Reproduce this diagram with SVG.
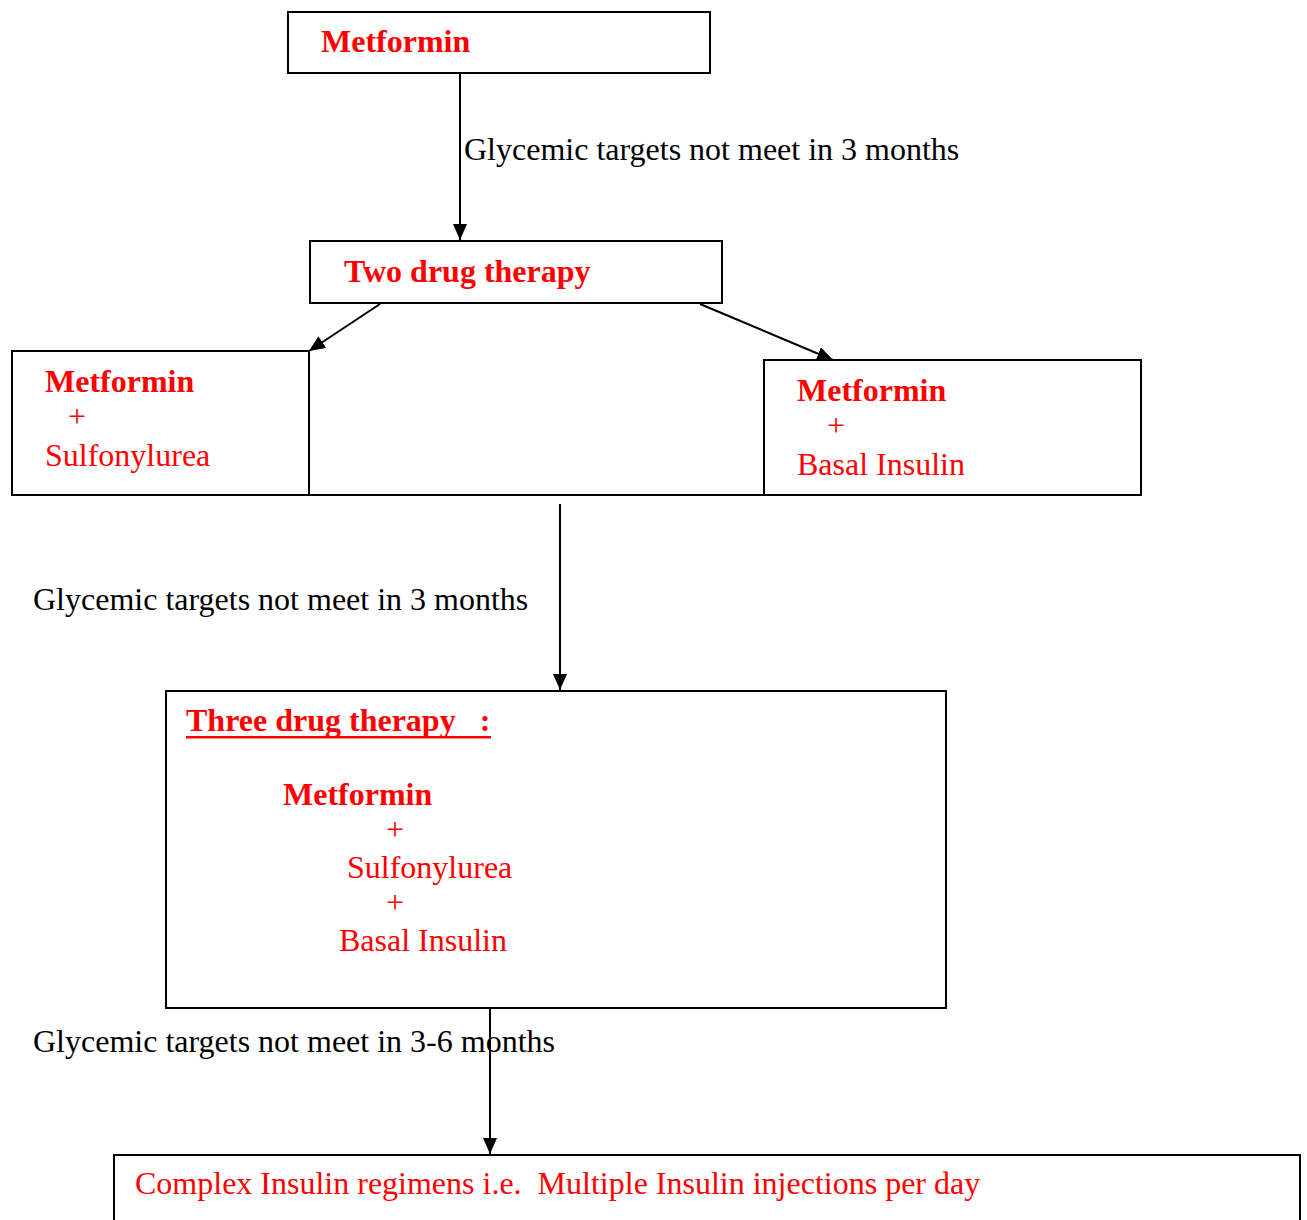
<svg xmlns="http://www.w3.org/2000/svg" width="1307" height="1220" viewBox="0 0 1307 1220">
<style>
.box{fill:#fff;stroke:#000;stroke-width:2}
.t{font-family:"Liberation Serif","Times New Roman",serif;font-size:32px}
.r{fill:#f00}
.b{font-weight:bold}
.k{fill:#000}
.c{stroke:#000;stroke-width:2;fill:none}
</style>
<defs>
<marker id="ah" viewBox="0 0 16 14" refX="16" refY="7" markerWidth="16" markerHeight="14" markerUnits="userSpaceOnUse" orient="auto">
<path d="M0,0 L16,7 L0,14 Z" fill="#000"/>
</marker>
</defs>
<rect width="1307" height="1220" fill="#fff"/>
<g id="n-metformin">
<rect class="box" x="288" y="12" width="422" height="61"/>
<text class="t r b" x="321" y="52">Metformin</text>
</g>
<g id="n-two">
<rect class="box" x="310" y="241" width="412" height="62"/>
<text class="t r b" x="344" y="282">Two drug therapy</text>
</g>
<g id="n-left">
<rect class="box" x="12" y="351" width="297" height="144"/>
<text class="t r b" x="45" y="392">Metformin</text>
<text class="t r" x="68" y="427">+</text>
<text class="t r" x="45" y="466">Sulfonylurea</text>
</g>
<g id="n-right">
<rect class="box" x="764" y="360" width="377" height="135"/>
<text class="t r b" x="797" y="401">Metformin</text>
<text class="t r" x="827" y="436">+</text>
<text class="t r" x="797" y="475">Basal Insulin</text>
</g>
<g id="n-three">
<rect class="box" x="166" y="691" width="780" height="317"/>
<text class="t r b" x="186" y="731" xml:space="preserve">Three drug therapy   :</text>
<rect x="186" y="736" width="305" height="2.5" fill="#f00"/>
<text class="t r b" x="283" y="805">Metformin</text>
<text class="t r" x="386" y="840">+</text>
<text class="t r" x="347" y="878">Sulfonylurea</text>
<text class="t r" x="386" y="913">+</text>
<text class="t r" x="339" y="951">Basal Insulin</text>
</g>
<g id="n-complex">
<rect class="box" x="114" y="1155" width="1186" height="80"/>
<text class="t r" x="135" y="1194" xml:space="preserve">Complex Insulin regimens i.e.  Multiple Insulin injections per day</text>
</g>
<g id="connectors">
<line class="c" x1="460" y1="73" x2="460" y2="240" marker-end="url(#ah)"/>
<text class="t k" x="464" y="160">Glycemic targets not meet in 3 months</text>
<line class="c" x1="380" y1="304" x2="309" y2="351" marker-end="url(#ah)"/>
<line class="c" x1="700" y1="304" x2="833" y2="360" marker-end="url(#ah)"/>
<line class="c" x1="309" y1="495" x2="764" y2="495"/>
<line class="c" x1="560" y1="504" x2="560" y2="690" marker-end="url(#ah)"/>
<text class="t k" x="33" y="610">Glycemic targets not meet in 3 months</text>
<text class="t k" x="33" y="1052">Glycemic targets not meet in 3-6 months</text>
<line class="c" x1="490" y1="1008" x2="490" y2="1154" marker-end="url(#ah)"/>
</g>
</svg>
